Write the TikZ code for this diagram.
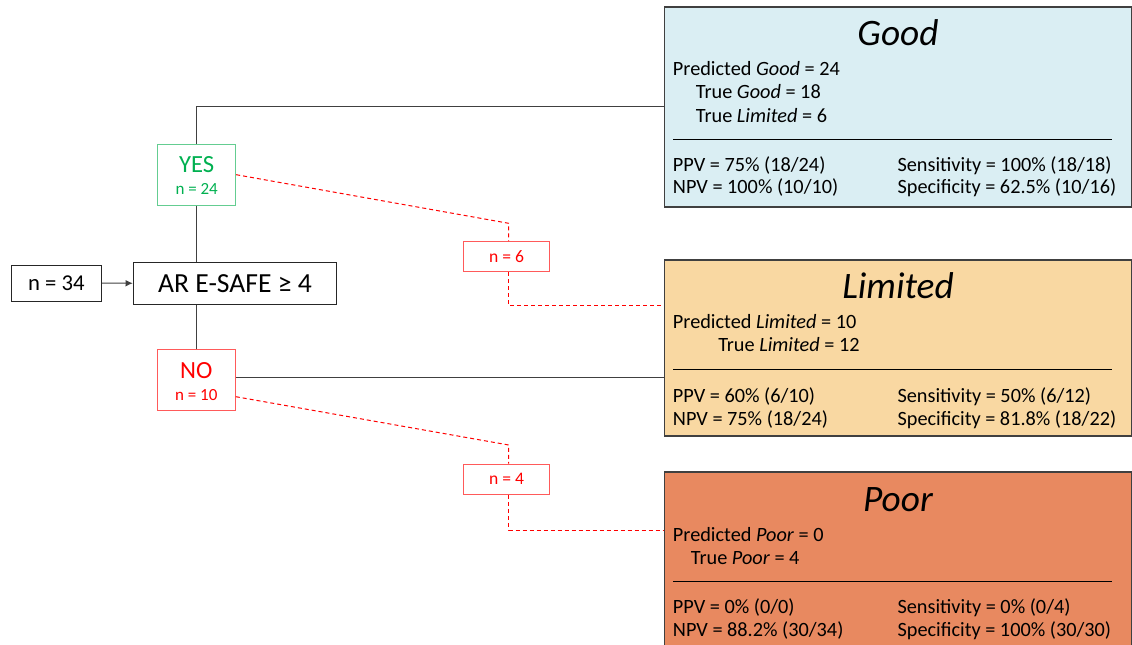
\documentclass[tikz,border=0pt]{standalone}
\usepackage{fontspec}
\setmainfont{Carlito}
\usetikzlibrary{arrows.meta}

\definecolor{yesgreen}{RGB}{0,176,80}
\definecolor{yesedge}{RGB}{100,205,145}
\definecolor{noedge}{RGB}{255,90,90}
\definecolor{goodfill}{RGB}{218,238,243}
\definecolor{limfill}{RGB}{249,216,162}
\definecolor{poorfill}{RGB}{232,137,96}

\tikzset{
  txt/.style={anchor=base west, inner sep=0pt, font=\fontsize{15.2}{18}\selectfont},
  ctxt/.style={anchor=base, inner sep=0pt},
  ttl/.style={anchor=base, inner sep=0pt, font=\fontsize{28}{32}\selectfont\itshape},
  outbox/.style={draw=black!75, line width=1pt, minimum width=350.25pt, inner sep=0pt},
  plain/.style={draw=black!85, line width=0.75pt, inner sep=0pt},
  link/.style={draw=black!75, line width=0.75pt},
  rlink/.style={draw=red, line width=0.75pt, dash pattern=on 3pt off 2.25pt},
  nbox/.style={draw=noedge, line width=0.75pt, inner sep=0pt, minimum width=64.2pt, minimum height=22.7pt,
    text=red, font=\fontsize{13.2}{15}\selectfont},
}

\begin{document}
\begin{tikzpicture}[x=0.75pt,y=-0.75pt]
\useasboundingbox (0,0) rectangle (1132,645);
\clip (0,0) rectangle (1132,645);

% outcome boxes
\node[outbox, fill=goodfill, minimum height=150pt] (good) at (897.8,107) {};
\node[outbox, fill=limfill, minimum height=132pt] (lim) at (897.8,348) {};
\node[outbox, fill=poorfill, minimum height=141pt] (poor) at (897.8,566) {};

% tree
\node[plain, minimum width=67.5pt, minimum height=27pt, font=\fontsize{17}{19}\selectfont] (n34) at (56.3,283.2) {n = 34};
\node[plain, minimum width=152.5pt, minimum height=31.5pt, font=\fontsize{20.7}{24}\selectfont] (ar) at (235,283.3) {AR E-SAFE ≥ 4};
\node[draw=yesedge, line width=0.75pt, minimum width=58.5pt, minimum height=45.5pt, inner sep=0pt] (yes) at (196.7,174.7) {};
\node[draw=noedge, line width=0.75pt, minimum width=58.5pt, minimum height=45.5pt, inner sep=0pt] (no) at (196.3,380.3) {};
\node[ctxt, text=yesgreen, font=\fontsize{18.5}{20}\selectfont] (yeslbl) at (196.7,172.3) {YES};
\node[ctxt, text=yesgreen, font=\fontsize{12.75}{14}\selectfont] (yesn) at (196.7,195) {n = 24};
\node[ctxt, text=red, font=\fontsize{18.5}{20}\selectfont] (nolbl) at (196.3,378.3) {NO};
\node[ctxt, text=red, font=\fontsize{12.75}{14}\selectfont] (non) at (196.3,400.7) {n = 10};

\node[nbox] (n6) at (506.5,256.8) {n = 6};
\node[nbox] (n4) at (506.5,479.3) {n = 4};

\draw[link, -{Latex[length=5.5pt,width=5pt]}] (n34) -- (ar);
\draw[link] (yes.north) |- (good.west);
\draw[link] (yes.south) -- (yes.south |- ar.north);
\draw[link] (no.north) -- (no.north |- ar.south);
\coordinate (nl) at (664,377.3);
\draw[link] (no.east |- nl) -- (nl);

\coordinate (k6) at (508.7,223.3);
\coordinate (e6) at (664,305.7);
\draw[rlink] (yes.east) -- (k6) -- (k6 |- n6.north);
\draw[rlink] (n6.south -| k6) |- (e6);
\coordinate (k4) at (508.7,445);
\coordinate (e4) at (664,530);
\draw[rlink] ([yshift=-12.3pt]no.east) -- (k4) -- (k4 |- n4.north);
\draw[rlink] (n4.south -| k4) |- (e4);

% Good
\node[ttl] (goodt) at (898,45.7) {Good};
\node[txt] (g1) at (672.7,76) {Predicted \textit{Good} = 24};
\node[txt] (g2) at (695.7,99) {True \textit{Good} = 18};
\node[txt] (g3) at (695.7,122.7) {True \textit{Limited} = 6};
\draw[line width=0.75pt] (673,140) -- (1111.7,140);
\node[txt] (g4) at (672.7,172) {PPV = 75\% (18/24)};
\node[txt] (g5) at (672.7,194) {NPV = 100\% (10/10)};
\node[txt] (g6) at (897.3,172) {Sensitivity = 100\% (18/18)};
\node[txt] (g7) at (897.3,194) {Specificity = 62.5\% (10/16)};

% Limited
\node[ttl] (limt) at (898,299) {Limited};
\node[txt] (l1) at (672.7,329) {Predicted \textit{Limited} = 10};
\node[txt] (l2) at (718,351.7) {True \textit{Limited} = 12};
\draw[line width=0.75pt] (673,370) -- (1111.7,370);
\node[txt] (l4) at (672.7,402.7) {PPV = 60\% (6/10)};
\node[txt] (l5) at (672.7,425) {NPV = 75\% (18/24)};
\node[txt] (l6) at (897.3,402.7) {Sensitivity = 50\% (6/12)};
\node[txt] (l7) at (897.3,425) {Specificity = 81.8\% (18/22)};

% Poor
\node[ttl] (poort) at (898,511) {Poor};
\node[txt] (p1) at (672.7,541) {Predicted \textit{Poor} = 0};
\node[txt] (p2) at (690.7,564.3) {True \textit{Poor} = 4};
\draw[line width=0.75pt] (673,581.7) -- (1111.7,581.7);
\node[txt] (p4) at (672.7,613) {PPV = 0\% (0/0)};
\node[txt] (p5) at (672.7,636.7) {NPV = 88.2\% (30/34)};
\node[txt] (p6) at (897.3,613) {Sensitivity = 0\% (0/4)};
\node[txt] (p7) at (897.3,636.7) {Specificity = 100\% (30/30)};
\end{tikzpicture}
\end{document}
